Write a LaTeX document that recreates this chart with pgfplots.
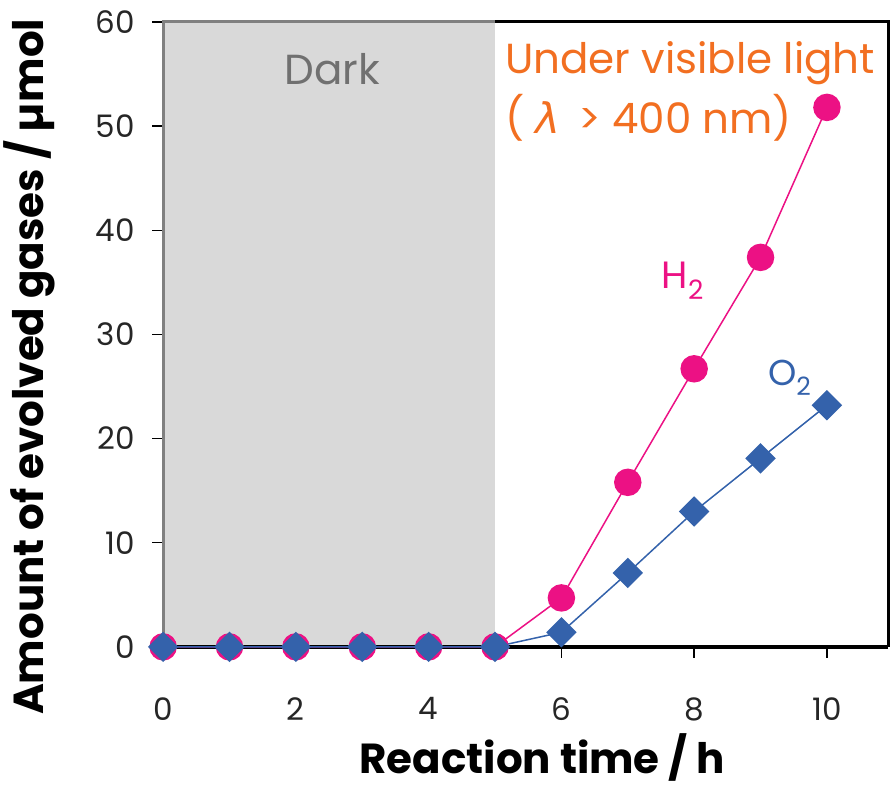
\documentclass[border=0pt]{standalone}
\usepackage{fontspec}
\setmainfont{Poppins}
\newfontfamily\dejavu{DejaVu Sans}
\usepackage{pgfplots}
\pgfplotsset{compat=1.18}
\definecolor{hcol}{HTML}{EC1184}
\definecolor{ocol}{HTML}{3462AB}
\definecolor{lcol}{HTML}{F26F21}
\definecolor{darkt}{HTML}{707070}
\begin{document}
\begin{tikzpicture}
\begin{axis}[
  scale only axis, width=725pt, height=625pt,
  xmin=0, xmax=10.92, ymin=0, ymax=60,
  axis x line*=bottom, axis y line*=left,
  axis line style={draw=none},
  clip=false,
  xtick={0,2,4,6,8,10}, ytick={0,10,20,30,40,50,60},
  tick align=outside, major tick length=11pt,
  tick style={black, line width=1.5pt},
  /pgf/number format/assume math mode=true,
  ticklabel style={font=\fontsize{31}{33}\selectfont, text=black!85},
  xticklabel style={yshift=-36pt},
  yticklabel style={xshift=-14pt},
  xlabel={Reaction time / h},
  ylabel={Amount of evolved gases / µmol},
  label style={font=\fontsize{42}{44}\selectfont\bfseries},
  xlabel style={at={(axis description cs:0.523,-0.202)}, anchor=base, inner sep=0pt},
  ylabel style={at={(axis description cs:-0.185,0.448)}, anchor=center},
]
\draw[black, line width=3.5pt] (axis cs:-0.2,0) -- (axis cs:10.92,0);
\addplot[hcol, line width=1.5pt, mark=*, mark size=13pt, mark options={solid, fill=hcol}]
  coordinates {(0,0) (1,0) (2,0) (3,0) (4,0) (5,0) (6,4.7) (7,15.8) (8,26.7) (9,37.4) (10,51.8)};
\addplot[ocol, line width=1.5pt, mark=square*, mark size=10pt, mark options={solid, fill=ocol, rotate=45}]
  coordinates {(0,0) (1,0) (2,0) (3,0) (4,0) (5,0) (6,1.4) (7,7.1) (8,13.0) (9,18.1) (10,23.2)};
\fill[black, fill opacity=0.15] (axis cs:0,0.15) rectangle (axis cs:5,60);
\draw[gray, line width=3pt] (axis cs:0,0) -- (axis cs:0,60) -- (axis cs:5,60);
\draw[black, line width=3pt] (axis cs:5,60) -- (axis cs:10.92,60) -- (axis cs:10.92,0);
\node[text=darkt, font=\fontsize{42}{44}\selectfont] at (axis cs:2.55,55.5) {Dark};
\node[text=lcol, font=\fontsize{42}{44}\selectfont, anchor=west, inner sep=0pt] at (axis cs:5.15,56.0) {Under visible light};
\node[text=lcol, font=\fontsize{42}{44}\selectfont, anchor=west, inner sep=0pt] at (axis cs:5.15,50.8) {( {\dejavu\itshape λ} \,> 400 nm)};
\node[text=hcol, font=\fontsize{38}{40}\selectfont] at (axis cs:7.83,35.2) {H\textsubscript{2}};
\node[text=ocol, font=\fontsize{36}{38}\selectfont] at (axis cs:9.44,25.8) {O\textsubscript{2}};
\end{axis}
\useasboundingbox (-163pt,-142pt) rectangle (727pt,647pt);
\end{tikzpicture}
\end{document}
